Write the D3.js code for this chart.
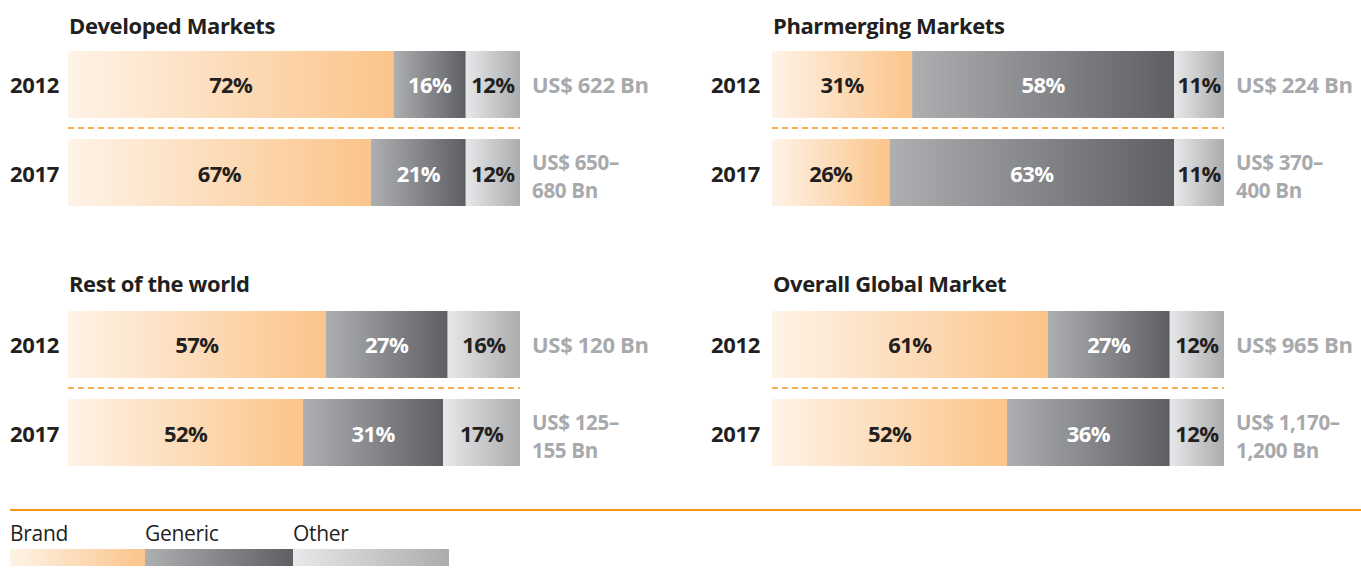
<!DOCTYPE html>
<html>
<head>
<meta charset="utf-8">
<script src="https://cdn.jsdelivr.net/npm/d3@7"></script>
<style>
  body { margin: 0; background: #fff; }
  svg text { font-family: "Open Sans", sans-serif; }
</style>
</head>
<body>
<div id="chart"></div>
<script>
// data
const panels = ["Developed Markets", "Pharmerging Markets", "Rest of the world", "Overall Global Market"];
const years = ["2012", "2017"];
const brand = [[72, 67], [31, 26], [57, 52], [61, 52]];
const generic = [[16, 21], [58, 63], [27, 31], [27, 36]];
const other = [[12, 12], [11, 11], [16, 17], [12, 12]];
const totals = [
    [["US$ 622 Bn"], ["US$ 650–", "680 Bn"]],
    [["US$ 224 Bn"], ["US$ 370–", "400 Bn"]],
    [["US$ 120 Bn"], ["US$ 125–", "155 Bn"]],
    [["US$ 965 Bn"], ["US$ 1,170–", "1,200 Bn"]]
];
const seriesNames = ["Brand", "Generic", "Other"];

const width = 1361, height = 569;
const svg = d3.select("#chart")
    .append("svg")
    .attr("width", width)
    .attr("height", height);

// gradients
const defs = svg.append("defs");
const grads = [
    { id: "gBrand", from: "#fef3e7", to: "#fbc48a" },
    { id: "gGeneric", from: "#aeafb1", to: "#5e5f63" },
    { id: "gOther", from: "#e7e8e9", to: "#abacae" }
];
grads.forEach(g => {
    const lg = defs.append("linearGradient").attr("id", g.id)
        .attr("x1", "0%").attr("x2", "100%").attr("y1", "0%").attr("y2", "0%");
    lg.append("stop").attr("offset", "0%").attr("stop-color", g.from);
    lg.append("stop").attr("offset", "100%").attr("stop-color", g.to);
});
const fills = ["url(#gBrand)", "url(#gGeneric)", "url(#gOther)"];
const textColors = ["#231f20", "#ffffff", "#231f20"];

const x = d3.scaleLinear().domain([0, 100]).range([0, 452]);
const y = d3.scaleBand().domain(years).range([0, 155]).paddingInner(0.239);

const origins = [[68, 51], [772, 51], [68, 311], [772, 311]];

panels.forEach((name, i) => {
    const g = svg.append("g")
        .attr("transform", `translate(${origins[i][0]}, ${origins[i][1]})`);

    g.append("text")
        .attr("x", 1).attr("y", i < 2 ? -17 : -19)
        .attr("font-size", 22).attr("font-weight", 700)
        .attr("fill", "#231f20")
        .attr("letter-spacing", -0.4)
        .text(name);

    const rows = years.map((yr, j) => {
        const vals = [brand[i][j], generic[i][j], other[i][j]];
        let acc = 0;
        return { year: yr, idx: j, segs: vals.map((v, k) => { const s = { v, k, x0: acc }; acc += v; return s; }) };
    });

    const row = g.selectAll(".row").data(rows).join("g")
        .attr("class", "row")
        .attr("transform", d => `translate(0, ${y(d.year)})`);

    row.selectAll("rect").data(d => d.segs).join("rect")
        .attr("x", s => x(s.x0))
        .attr("width", s => x(s.v))
        .attr("height", y.bandwidth())
        .attr("fill", s => fills[s.k]);

    row.selectAll("text.pct").data(d => d.segs).join("text")
        .attr("class", "pct")
        .attr("x", s => x(s.x0 + s.v / 2))
        .attr("y", y.bandwidth() / 2 + 9)
        .attr("text-anchor", "middle")
        .attr("font-size", 22).attr("font-weight", 700)
        .attr("letter-spacing", -0.6)
        .attr("fill", s => textColors[s.k])
        .text(s => s.v + "%");

    // year labels
    row.append("text")
        .attr("x", i % 2 === 0 ? -58 : -61)
        .attr("y", y.bandwidth() / 2 + 9)
        .attr("font-size", 22).attr("font-weight", 700)
        .attr("letter-spacing", -0.3)
        .attr("fill", "#231f20")
        .text(d => d.year);

    // totals
    row.each(function (d) {
        const lines = totals[i][d.idx];
        const two = lines.length > 1;
        lines.forEach((ln, li) => {
            d3.select(this).append("text")
                .attr("x", x(100) + 12)
                .attr("y", y.bandwidth() / 2 + 9 + (li - (lines.length - 1) / 2) * 28 + (two ? 2 : 0))
                .attr("font-size", two ? 20.5 : 22).attr("font-weight", 700)
                .attr("letter-spacing", -0.3)
                .attr("fill", "#a7a9ac")
                .text(ln);
        });
    });

    // dashed divider
    g.append("line")
        .attr("x1", 0).attr("x2", x(100))
        .attr("y1", y("2017") - y.step() * 0.239 / 2 - 0.5)
        .attr("y2", y("2017") - y.step() * 0.239 / 2 - 0.5)
        .attr("stroke", "#f7941d").attr("stroke-width", 1.5)
        .attr("stroke-dasharray", "6,4");
});

// bottom rule
svg.append("line")
    .attr("x1", 10).attr("x2", width).attr("y1", 510).attr("y2", 510)
    .attr("stroke", "#f7941d").attr("stroke-width", 2);

// legend
const legendX = [10, 145, 293, 449];
seriesNames.forEach((s, k) => {
    svg.append("rect")
        .attr("x", legendX[k]).attr("y", 549)
        .attr("width", legendX[k + 1] - legendX[k]).attr("height", 17)
        .attr("fill", fills[k]);
    svg.append("text")
        .attr("x", legendX[k]).attr("y", 541)
        .attr("font-size", 21)
        .attr("letter-spacing", -0.3)
        .attr("fill", "#231f20")
        .text(s);
});
</script>
</body>
</html>
